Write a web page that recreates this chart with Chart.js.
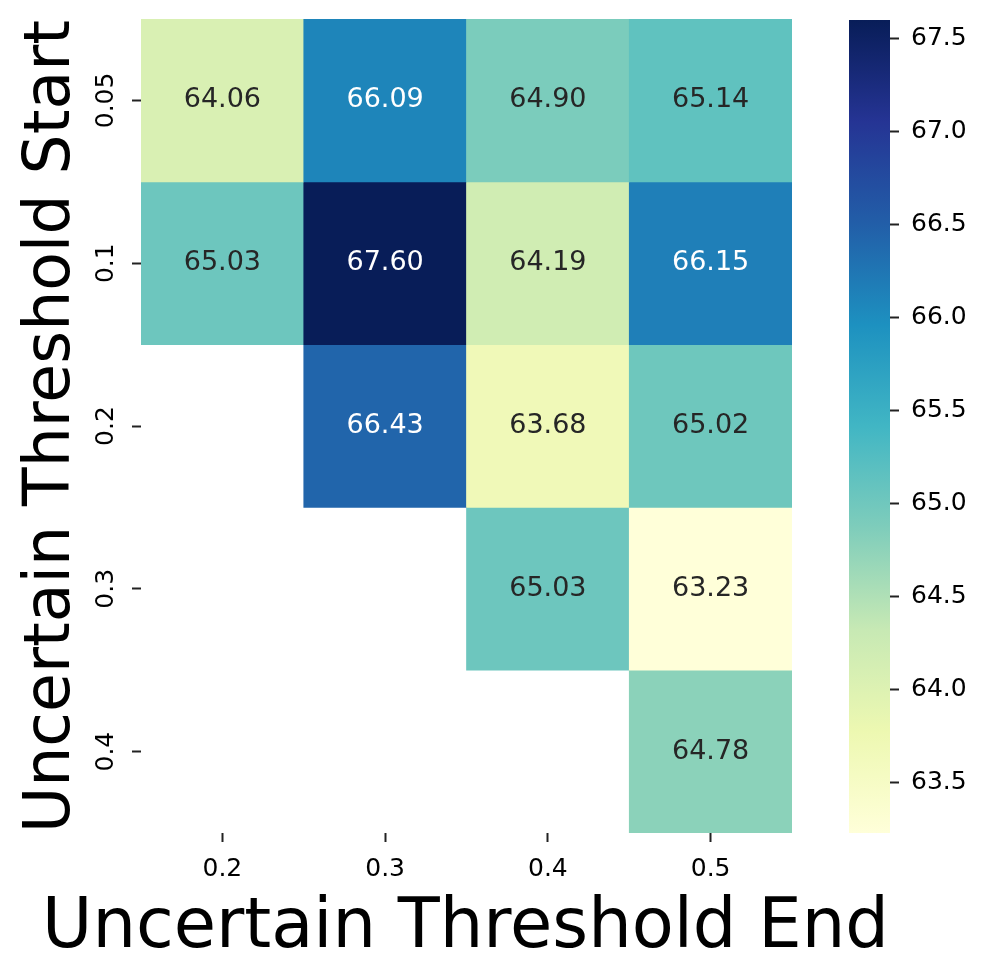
<!DOCTYPE html>
<html>
<head>
<meta charset="utf-8">
<script src="https://cdn.jsdelivr.net/npm/chart.js@4.4.1/dist/chart.umd.min.js"></script>
<style>
body{margin:0;background:#fff;}
#wrap{position:relative;width:991px;height:980px;}
canvas{position:absolute;top:0;}
#heat{left:0;}
#bar{left:820px;}
</style>
</head>
<body>
<div id="wrap">
<canvas id="heat" width="991" height="980"></canvas>
<canvas id="bar" width="171" height="980"></canvas>
</div>
<script>
var colLabels = ['0.2', '0.3', '0.4', '0.5'];
var rowLabels = ['0.05', '0.1', '0.2', '0.3', '0.4'];
var row005 = [64.06, 66.09, 64.90, 65.14];
var row01  = [65.03, 67.60, 64.19, 66.15];
var row02  = [null, 66.43, 63.68, 65.02];
var row03  = [null, null, 65.03, 63.23];
var row04  = [null, null, null, 64.78];
var barTicks = [63.5, 64.0, 64.5, 65.0, 65.5, 66.0, 66.5, 67.0, 67.5];
var xTitle = 'Uncertain Threshold End';
var yTitle = 'Uncertain Threshold Start';
var vmin = 63.23, vmax = 67.60;
var rows = [row005, row01, row02, row03, row04];

var FONT = "'DejaVu Sans', sans-serif";

// YlGnBu colormap
var ylgnbu = ['#ffffd9','#edf8b1','#c7e9b4','#7fcdbb','#41b6c4','#1d91c0','#225ea8','#253494','#081d58'];
function hex2rgb(h){
    return [parseInt(h.substr(1,2),16), parseInt(h.substr(3,2),16), parseInt(h.substr(5,2),16)];
}
function cmap(v){
    var t = (v - vmin) / (vmax - vmin);
    t = Math.max(0, Math.min(1, t));
    var p = t * 8;
    var i = Math.min(7, Math.floor(p));
    var f = p - i;
    var a = hex2rgb(ylgnbu[i]), b = hex2rgb(ylgnbu[i+1]);
    return [0,1,2].map(function(k){ return Math.round(a[k] + (b[k]-a[k])*f); });
}
function lum(rgb){
    var c = rgb.map(function(x){
        x /= 255;
        return x <= 0.03928 ? x/12.92 : Math.pow((x+0.055)/1.055, 2.4);
    });
    return 0.2126*c[0] + 0.7152*c[1] + 0.0722*c[2];
}
function rgbStr(c){ return 'rgb('+c[0]+','+c[1]+','+c[2]+')'; }

var datasets = [];
for (var r = 0; r < rows.length; r++) {
    (function(r){
        datasets.push({
            label: rowLabels[r],
            values: rows[r],
            data: rows[r].map(function(v){ return v == null ? null : [r-0.5, r+0.5]; }),
            backgroundColor: rows[r].map(function(v){ return v == null ? 'transparent' : rgbStr(cmap(v)); }),
            borderWidth: 0,
            barPercentage: 1,
            categoryPercentage: 1,
            grouped: false
        });
    })(r);
}

// font size so that text fills a given width
function fitFont(ctx, text, width){
    ctx.font = '100px ' + FONT;
    return 100 * width / ctx.measureText(text).width;
}

var annotate = {
    id: 'annotate',
    afterDatasetsDraw: function(chart){
        var ctx = chart.ctx;
        ctx.save();
        ctx.font = '27px ' + FONT;
        ctx.textAlign = 'center';
        ctx.textBaseline = 'middle';
        chart.data.datasets.forEach(function(ds, di){
            var meta = chart.getDatasetMeta(di);
            meta.data.forEach(function(bar, j){
                var v = ds.values[j];
                if (v == null) return;
                ctx.fillStyle = lum(cmap(v)) > 0.408 ? '#262626' : '#ffffff';
                ctx.fillText(v.toFixed(2), bar.x, (bar.y + bar.base) / 2);
            });
        });
        // rotated y tick labels
        var ys = chart.scales.y;
        ctx.fillStyle = '#000';
        ctx.font = '25px ' + FONT;
        rowLabels.forEach(function(l, i){
            ctx.save();
            ctx.translate(106, ys.getPixelForValue(i));
            ctx.rotate(-Math.PI/2);
            ctx.fillText(l, 0, 0);
            ctx.restore();
        });
        // axis titles
        ctx.textBaseline = 'alphabetic';
        var fx = fitFont(ctx, xTitle, 847);
        ctx.font = fx + 'px ' + FONT;
        ctx.fillText(xTitle, 465.5, 947);
        var fy = fitFont(ctx, yTitle, 813);
        ctx.font = fy + 'px ' + FONT;
        ctx.save();
        ctx.translate(69, 426.5);
        ctx.rotate(-Math.PI/2);
        ctx.fillText(yTitle, 0, 0);
        ctx.restore();
        ctx.restore();
    }
};

new Chart(document.getElementById('heat'), {
    type: 'bar',
    data: { labels: colLabels, datasets: datasets },
    plugins: [annotate],
    options: {
        responsive: false,
        animation: false,
        layout: { padding: { top: 19, right: 199, left: 0, bottom: 0 } },
        plugins: { legend: { display: false }, tooltip: { enabled: false } },
        scales: {
            x: {
                type: 'category',
                offset: true,
                afterFit: function(s){ s.height = 147; },
                grid: { display: true, drawOnChartArea: false, offset: false, tickLength: 9, tickWidth: 2, tickColor: '#222' },
                border: { display: false },
                ticks: { color: '#000', font: { family: FONT, size: 25 }, padding: 12, maxRotation: 0 }
            },
            y: {
                type: 'linear',
                min: -0.5,
                max: 4.5,
                reverse: true,
                afterBuildTicks: function(s){ s.ticks = rowLabels.map(function(l, i){ return { value: i }; }); },
                afterFit: function(s){ s.width = 141; },
                grid: { display: true, drawOnChartArea: false, tickLength: 9, tickWidth: 2, tickColor: '#222' },
                border: { display: false },
                ticks: { color: 'transparent', font: { family: FONT, size: 25 }, callback: function(v){ return rowLabels[v]; } }
            }
        }
    }
});

new Chart(document.getElementById('bar'), {
    type: 'bar',
    data: {
        labels: [''],
        datasets: [{
            data: [[vmin, vmax]],
            backgroundColor: function(c){
                var ca = c.chart.chartArea;
                if (!ca) return null;
                var g = c.chart.ctx.createLinearGradient(0, ca.bottom, 0, ca.top);
                ylgnbu.forEach(function(col, i){ g.addColorStop(i/8, col); });
                return g;
            },
            borderWidth: 0,
            barPercentage: 1,
            categoryPercentage: 1
        }]
    },
    options: {
        responsive: false,
        animation: false,
        layout: { padding: { top: 20, left: 29, right: 0, bottom: 147 } },
        plugins: { legend: { display: false }, tooltip: { enabled: false } },
        scales: {
            x: { display: false },
            y: {
                position: 'right',
                min: vmin,
                max: vmax,
                afterBuildTicks: function(s){ s.ticks = barTicks.map(function(v){ return { value: v }; }); },
                afterFit: function(s){ s.width = 101; s.paddingTop = 0; s.paddingBottom = 0; },
                grid: { display: true, drawOnChartArea: false, tickLength: 9, tickWidth: 2, tickColor: '#222' },
                border: { display: false },
                ticks: { color: '#000', font: { family: FONT, size: 25 }, padding: 12, callback: function(v){ return v.toFixed(1); } }
            }
        }
    }
});
</script>
</body>
</html>
